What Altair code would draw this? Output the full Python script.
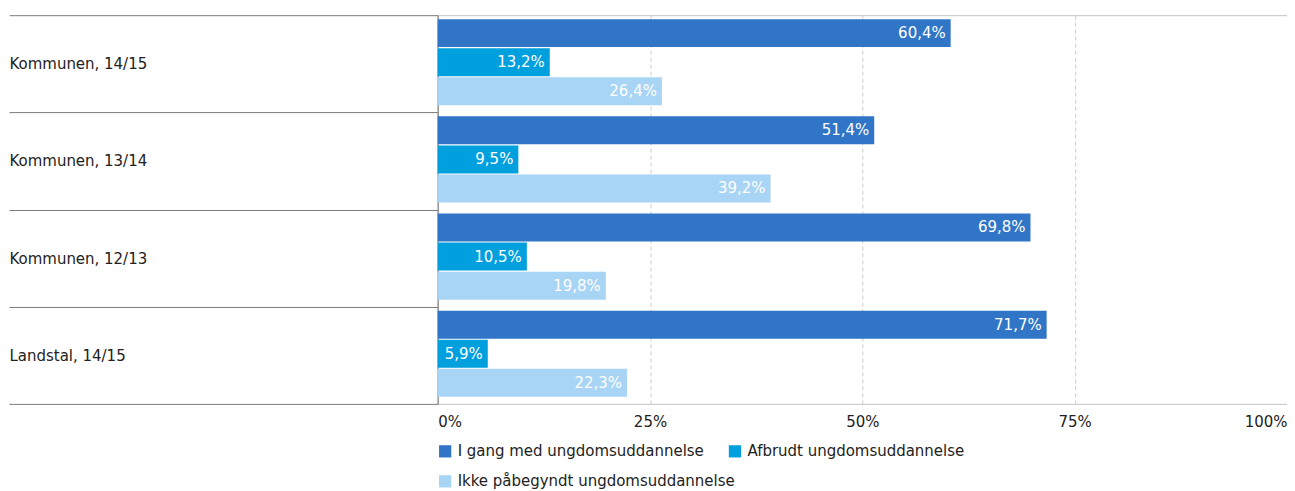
import altair as alt
import pandas as pd

categories = ["Kommunen, 14/15", "Kommunen, 13/14", "Kommunen, 12/13", "Landstal, 14/15"]
series = ["I gang med ungdomsuddannelse", "Afbrudt ungdomsuddannelse", "Ikke påbegyndt ungdomsuddannelse"]
i_gang = [60.4, 51.4, 69.8, 71.7]
afbrudt = [13.2, 9.5, 10.5, 5.9]
ikke = [26.4, 39.2, 19.8, 22.3]
colors = ["#3175c7", "#00a0df", "#a8d4f5"]
x_ticks = [0, 25, 50, 75, 100]

rows = []
for s, vals in zip(series, [i_gang, afbrudt, ikke]):
    for c, v in zip(categories, vals):
        rows.append({"kategori": c, "serie": s, "værdi": v})
df = pd.DataFrame(rows)

FONT = "DejaVu Sans"

y = alt.Y("kategori:N", sort=categories, title=None,
          scale=alt.Scale(paddingInner=0, paddingOuter=0),
          axis=alt.Axis(labelAlign="left", labelPadding=0, tickSize=429, tickBand="extent",
                        tickColor="#7a7a7a", domainColor="#7a7a7a", labelFont=FONT,
                        labelFontSize=15, labelColor="#222222", labelBaseline="middle"))
yoff = alt.YOffset("serie:N", sort=series,
                   scale=alt.Scale(paddingInner=0.04, paddingOuter=0.19, align=0.36))
x = alt.X("værdi:Q", title=None,
          scale=alt.Scale(domain=[0, 100], nice=False),
          axis=alt.Axis(values=x_ticks, labelExpr="datum.value + '%'", labelFlush=True,
                        ticks=False, domain=False, grid=True, gridDash=[4, 3],
                        gridColor="#cccccc", labelFont=FONT, labelFontSize=15,
                        labelColor="#222222", labelPadding=11))
color = alt.Color("serie:N", sort=series,
                  scale=alt.Scale(domain=series, range=colors),
                  legend=alt.Legend(title=None, orient="bottom", direction="horizontal",
                                    columns=2, gridAlign="none", symbolType="square",
                                    symbolSize=150, symbolStrokeWidth=0, labelFont=FONT,
                                    labelFontSize=15, labelColor="#222222", labelOffset=5,
                                    columnPadding=-8, rowPadding=14, offset=14,
                                    labelLimit=400))

base = alt.Chart(df).encode(y=y, yOffset=yoff)
bars = base.mark_bar(size=28).encode(x=x, color=color)
labels = base.mark_text(align="right", baseline="middle", dx=-5, color="white",
                        font=FONT, fontSize=15).transform_calculate(
    lbl="replace(format(datum['værdi'], '.1f'), '.', ',') + '%'"
).encode(x=alt.X("værdi:Q"), text="lbl:N")

chart = (bars + labels).properties(
    width=850, height=389,
    padding={"top": 0, "left": 0, "right": 0, "bottom": 0}
).configure_view(stroke="#c4c4c4", strokeWidth=1)

chart.save("out.html", embed_options={"renderer": "svg", "actions": False})
